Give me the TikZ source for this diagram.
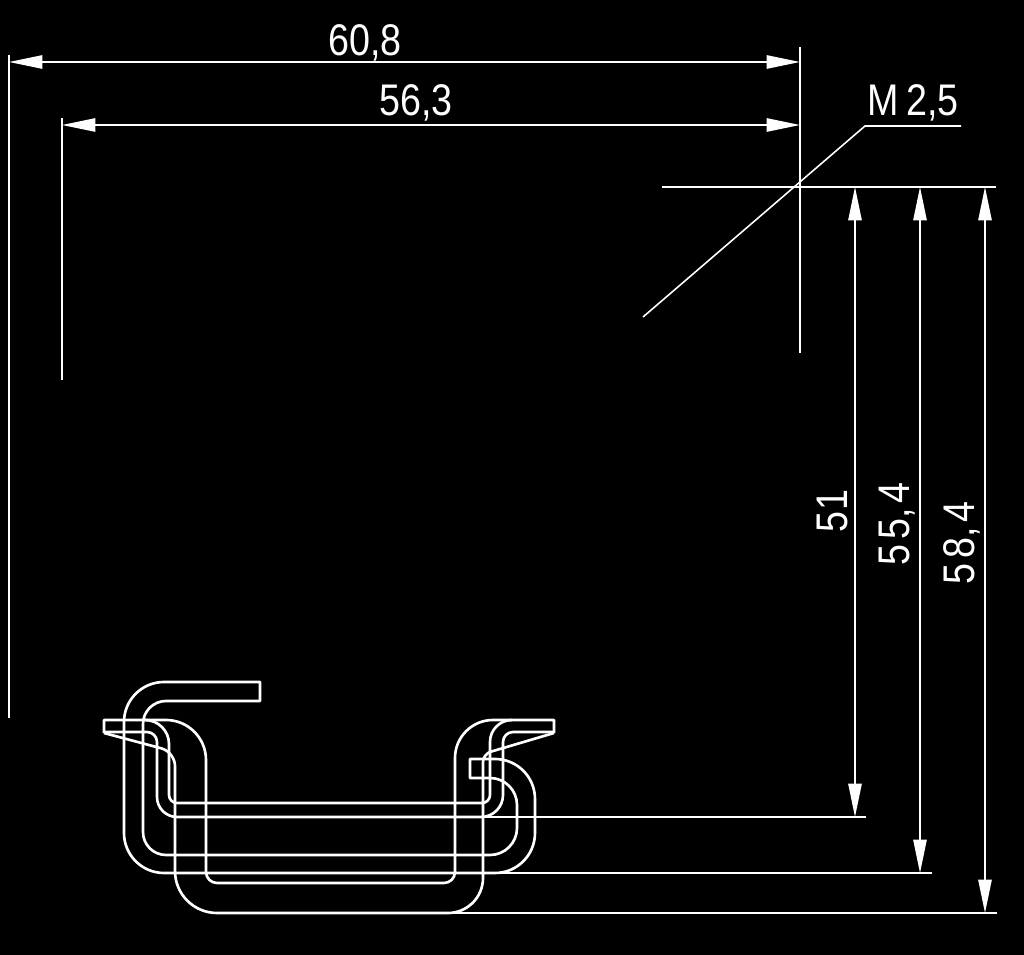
\documentclass[tikz,border=0pt]{standalone}
\usepackage{fontspec}
\setmainfont[FakeStretch=0.85]{Liberation Sans}
\usepackage{tikz}
\usetikzlibrary{arrows.meta}
\tikzset{
  dimline/.style={white,line width=0.45pt,{Triangle[length=9.5pt,width=3.8pt]}-{Triangle[length=9.5pt,width=3.8pt]}},
  extline/.style={white,line width=0.45pt},
  profile/.style={white,line width=0.75pt,line join=round},
  dimlabel/.style={white,font=\fontsize{12.6}{14}\selectfont,inner sep=0pt}
}
\begin{document}
\begin{tikzpicture}[x=0.01cm,y=-0.01cm]
\useasboundingbox (0,0) rectangle (1024,955);
\fill[black] (0,0) rectangle (1024,955);
% extension lines
\draw[extline] (9,55) to (9,718);
\draw[extline] (62,118) to (62,380);
\draw[extline] (800,47) to (800,353);
\draw[extline] (662,187) to (996,187);
\draw[extline] (485,817) to (866,817);
\draw[extline] (497,873) to (932,873);
\draw[extline] (448,913) to (997,913);
% horizontal dimensions
\draw[dimline] (9,62) to (800,62);
\draw[dimline] (62,125) to (800,125);
\node[dimlabel] (width608) at (365,43) {60,8};
\node[dimlabel] (width563) at (416,103) {56,3};
% thread callout
\draw[extline] (643,317) to (865,126) to (961,126);
\node[dimlabel] (thread) at (913,103) {M\,2,5};
% vertical dimensions
\draw[dimline] (855,187) to (855,817);
\draw[dimline] (920,187) to (920,873);
\draw[dimline] (985,187) to (985,913);
\node[dimlabel,rotate=90] (height51) at (832,511) {5\kern0.5pt 1};
\node[dimlabel,rotate=90] (height554) at (897,524) {5\kern1.3pt 5,\kern1.3pt 4};
\node[dimlabel,rotate=90] (height584) at (962,543) {5\kern1.3pt 8,\kern1.3pt 4};
% hook rail
\draw[profile] (260,682) [rounded corners=4mm] -- (124,682) -- (124,873) -- (535,873)
  -- (535,759) [sharp corners] -- (470,759) -- (470,778) [rounded corners=2.7mm] -- (517,778)
  -- (517,855) [rounded corners=2.3mm] -- (143,855) -- (143,701) [sharp corners] -- (260,701) -- cycle;
% shallow rail
\draw[profile] (104,733) -- (104,720) [rounded corners=4mm] -- (206,720) [rounded corners=1.1mm] -- (206,883)
  -- (455,883) [rounded corners=3.8mm] -- (455,720) [sharp corners] -- (554,720) -- (554,733);
% deep rail
\draw[profile] (104,733) [rounded corners=1.4mm] -- (175,752) [rounded corners=4.2mm] -- (175,913)
  [rounded corners=3.5mm] -- (483,913) [rounded corners=0.8mm] -- (483,754) [sharp corners] -- (554,733);
% inner lines of the flanges
\draw[profile] (104,732) [rounded corners=1mm] -- (157,732) [rounded corners=2mm] -- (157,817)
  [rounded corners=2.2mm] -- (503,817) [rounded corners=1mm] -- (503,732) [sharp corners] -- (553,732);
\draw[profile] (146,720) [rounded corners=2.4mm] -- (169,720) [rounded corners=0.8mm] -- (169,803)
  -- (490,803) [rounded corners=2.2mm] -- (490,720) [sharp corners] -- (512,720);
\end{tikzpicture}
\end{document}
